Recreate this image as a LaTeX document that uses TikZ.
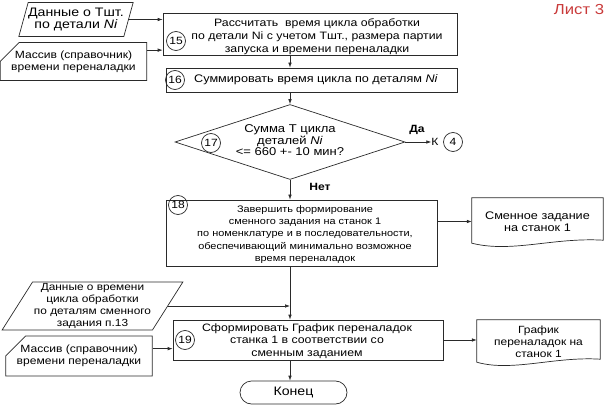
\documentclass[tikz,border=0pt]{standalone}
\usepackage{fontspec}
\setmainfont[FakeStretch=1.15]{Liberation Sans}
\usepackage{xcolor}
\usetikzlibrary{arrows.meta}
\usetikzlibrary{shapes.geometric,shapes.misc}
\usetikzlibrary{calc,positioning}
\definecolor{listred}{HTML}{C93A3A}
\definecolor{pag}{HTML}{2A2A2A}

\begin{document}
\begin{tikzpicture}[x=1pt,y=-1pt,
	>={Latex[length=5pt,width=3.6pt]},
	every node/.style={font=\fontsize{10.5}{12}\selectfont, align=center, inner sep=0pt},
	txt/.style={font=\fontsize{#1}{12.2}\selectfont},
	block/.style={draw=pag, line width=0.7pt, rectangle},
	num/.style={draw=pag, circle, line width=0.7pt, minimum size=19pt, font=\fontsize{10.5}{12}\selectfont},
	data/.style={draw=pag, line width=0.7pt, trapezium, trapezium stretches=true},
	card/.style={draw=pag, line width=0.7pt, chamfered rectangle, chamfered rectangle corners=north west},
	lbl/.style={font=\fontsize{10.5}{12}\selectfont\bfseries},
	flow/.style={pag, line width=0.7pt}]
	\useasboundingbox (0,0) rectangle (605,406);
	%% sheet number in the corner
	\node[font=\fontsize{14.5}{16}\selectfont, text=listred] (sheet) at (579,10) {Лист 3};
	%% main axis of the flow, all the vertical arrows go along it
	\coordinate (ax) at (290,0);

	%% input data for block 15
	\node[data, trapezium left angle=68, trapezium right angle=112, minimum width=110, minimum height=34, txt=12.3] (p1) at (76,19.5) {Данные о Тшт.\\по детали \textit{Ni}};
	\node[card, chamfered rectangle xsep=28, chamfered rectangle ysep=8, minimum width=137, minimum height=38, txt=10.5] (c1) at (73.5,61.5) {Массив (справочник)\\времени переналадки};

	%% block 15 and 16
	\node[block, minimum width=294, minimum height=42] (b15) at (310,34) {};
	\node[font=\fontsize{10.7}{13}\selectfont] (t15) at (317,37) {Рассчитать~ время цикла обработки\\по детали Ni с учетом Тшт., размера партии\\запуска и времени переналадки};
	\node[num] (n15) at (176,41) {15};
	\node[block, minimum width=291, minimum height=24] (b16) at (311.5,80) {};
	\node[txt=11] (t16) at (316,80) {Суммировать время цикла по деталям \textit{Ni}};
	\node[num] (n16) at (175,80) {16};

	%% decision 17
	\node[diamond, draw=pag, line width=0.7pt, minimum width=230, minimum height=75] (d17) at (290,142) {};
	\node[font=\fontsize{11.3}{11.5}\selectfont] (t17) at (290,140.5) {Сумма Т цикла\\деталей \textit{Ni}\\<= 660 +- 10 мин?};
	\node[num] (n17) at (211,143) {17};
	\node[lbl] (yes) at (417,130) {Да};
	\node[lbl] (no) at (320,187) {Нет};
	\node (k4) at (435,142) {К};
	\node[num] (n4) at (453,142) {4};

	%% block 18 and its output
	\node[block, minimum width=271, minimum height=66] (b18) at (301.5,233) {};
	\node[txt=9.5] (t18) at (305,234.5) {Завершить формирование\\сменного задания на станок 1\\по номенклатуре и в последовательности,\\обеспечивающий минимально возможное\\время переналадок};
	\node[num] (n18) at (178,205) {18};
	\node[minimum width=131, minimum height=47, txt=11] (doc1) at (537.5,221.5) {Сменное задание\\на станок 1};
	\draw[flow] (doc1.north west) -- (doc1.north east) -- ([yshift=5]doc1.south east) .. controls ([xshift=-50,yshift=8]doc1.south east) and ([xshift=40,yshift=-8]doc1.south west) .. ([yshift=2]doc1.south west) -- cycle;

	%% input data for block 19
	\node[data, trapezium left angle=57, trapezium right angle=123, minimum width=181, minimum height=48, txt=10.3] (p2) at (92.5,306) {Данные о времени\\цикла обработки\\по деталям сменного\\задания п.13};
	\node[card, chamfered rectangle xsep=26, chamfered rectangle ysep=9, minimum width=144, minimum height=37, txt=10.5] (c2) at (79,356) {Массив (справочник)\\времени переналадки};

	%% block 19, its output and the end
	\node[block, minimum width=270, minimum height=40] (b19) at (308,340) {};
	\node[txt=10.7] (t19) at (307,341) {Сформировать График переналадок\\станка 1 в соответствии со\\сменным заданием};
	\node[num] (n19) at (185,340) {19};
	\node[minimum width=123, minimum height=44, txt=10.4] (doc2) at (538.5,342) {График\\переналадок на\\станок 1};
	\draw[flow] (doc2.north west) -- (doc2.north east) -- ([yshift=5]doc2.south east) .. controls ([xshift=-45,yshift=8]doc2.south east) and ([xshift=35,yshift=-8]doc2.south west) .. ([yshift=2]doc2.south west) -- cycle;
	\node[draw=pag, line width=0.7pt, rounded rectangle, minimum width=107, minimum height=23, font=\fontsize{12.3}{14}\selectfont] (fin) at (293.5,392.5) {Конец};

	%% connectors
	\draw[flow,->] (p1.east) -- (p1.east -| b15.west);
	\draw[flow,->] ([yshift=-8]c1.north east) -- ([yshift=-8]c1.north east -| b15.west);
	\draw[flow,->] (b15.south -| ax) -- (b16.north -| ax);
	\draw[flow,->] (b16.south -| ax) -- (d17.north);
	\draw[flow,->] (d17.east) -- (k4.west);
	\draw[flow,->] (d17.south) -- (b18.north -| ax);
	\draw[flow,->] (b18.east |- doc1.west) -- (doc1.west);
	\coordinate (j19) at (ax |- p2.east);
	\draw[flow,->] (p2.east) -- (j19);
	\draw[flow] (b18.south -| ax) -- (j19);
	\draw[flow,->] (j19) -- (b19.north -| ax);
	\draw[flow,->] ([yshift=-13]c2.north east) -- ([yshift=-13]c2.north east -| b19.west);
	\draw[flow,->] (b19.east) -- (b19.east -| doc2.west);
	\draw[flow,->] (b19.south -| ax) -- (fin.north -| ax);
\end{tikzpicture}
\end{document}
